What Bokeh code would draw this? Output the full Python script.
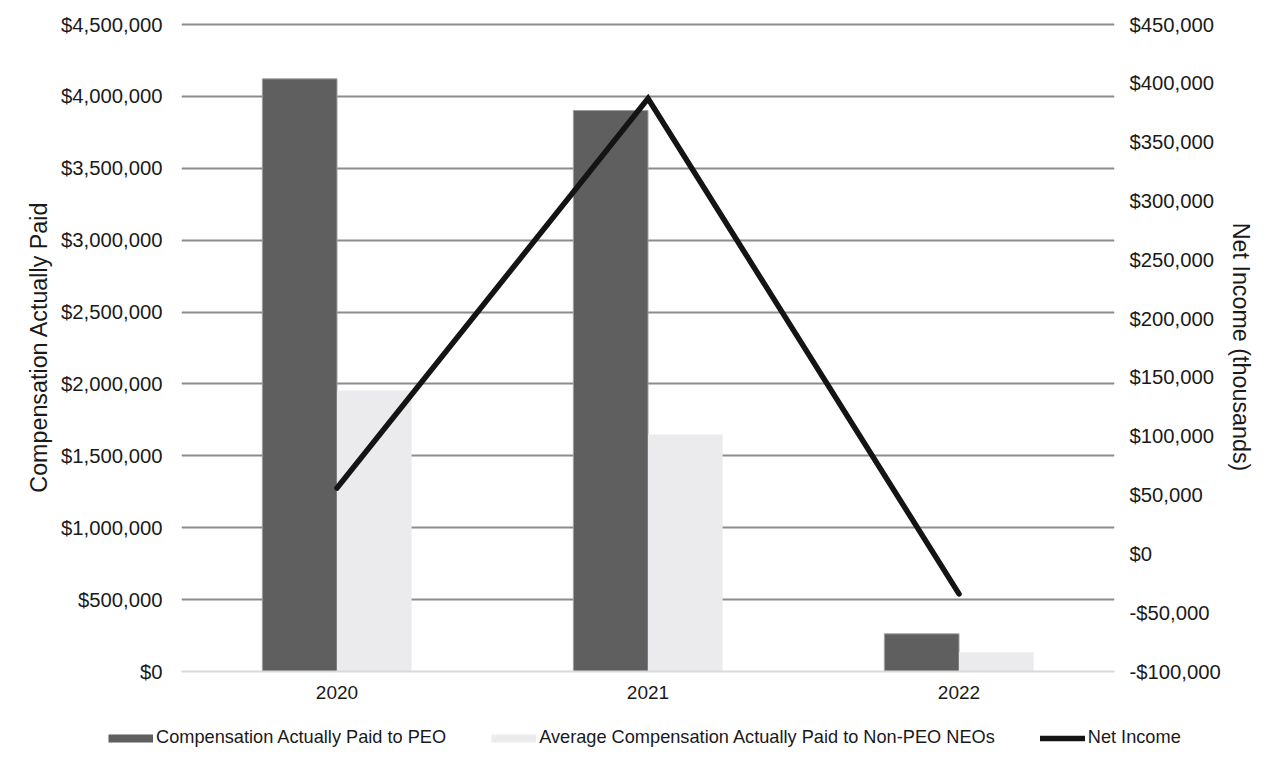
from bokeh.plotting import figure
from bokeh.models import (Range1d, LinearAxis, FactorRange, FixedTicker, NumeralTickFormatter,
                          Legend, LegendItem, ColumnDataSource)
from bokeh.transform import dodge
from bokeh.embed import file_html
from bokeh.resources import INLINE

years = ["2020", "2021", "2022"]
cap_peo = [4122000, 3902000, 262000]
cap_non_peo = [1955000, 1648000, 134000]
net_income = [56000, 387000, -34000]  # thousands

left_ticks = list(range(0, 4500001, 500000))
right_ticks = list(range(-100000, 450001, 50000))

FONT = "Liberation Sans"
TXT = "#1a1a1a"
DARK = "#5f5f5f"
LIGHT = "#ebebed"
LINE = "#141414"

# frame geometry (px)
FRAME_H = 647
PAD_TOP = 2
scale_pad = (FRAME_H + PAD_TOP) / FRAME_H
left_end = 4500000 * scale_pad
right_end = -100000 + 550000 * scale_pad

src = ColumnDataSource(dict(year=years, peo=cap_peo, non_peo=cap_non_peo, ni=net_income))

p = figure(x_range=FactorRange(*years), y_range=Range1d(0, left_end),
           width=1276, height=710, output_backend="svg", toolbar_location=None,
           min_border_left=181, min_border_right=162, min_border_top=24 - PAD_TOP,
           min_border_bottom=39)
p.extra_y_ranges = {"ni": Range1d(-100000, right_end)}
p.outline_line_color = None

p.vbar(x=dodge("year", -0.12, range=p.x_range), top="peo", width=0.24, source=src,
       fill_color=DARK, line_color="#a0a0a0", line_width=1)
p.vbar(x=dodge("year", 0.12, range=p.x_range), top="non_peo", width=0.24, source=src,
       fill_color=LIGHT, line_color=None)
p.line(x="year", y="ni", source=src, y_range_name="ni", line_color=LINE,
       line_width=5.5, line_cap="round", line_join="miter")

# axes
yax = p.yaxis[0]
yax.ticker = FixedTicker(ticks=left_ticks)
yax.formatter = NumeralTickFormatter(format="$0,0")
yax.axis_label = "Compensation Actually Paid"

rax = LinearAxis(y_range_name="ni", ticker=FixedTicker(ticks=right_ticks),
                 formatter=NumeralTickFormatter(format="$0,0"),
                 axis_label="Net Income (thousands)")
p.add_layout(rax, "right")

for ax in (yax, rax):
    ax.axis_line_color = None
    ax.major_tick_line_color = None
    ax.major_tick_out = 0
    ax.major_tick_in = 0
    ax.minor_tick_line_color = None
    ax.minor_tick_out = 0
    ax.major_label_text_font = FONT
    ax.major_label_text_font_size = "20.3px"
    ax.major_label_text_color = TXT
    ax.axis_label_text_font = FONT
    ax.axis_label_text_font_size = "23.3px"
    ax.axis_label_text_font_style = "normal"
    ax.axis_label_text_color = TXT
yax.major_label_standoff = 19
rax.major_label_standoff = 15
yax.axis_label_standoff = 6
rax.axis_label_standoff = 4

xax = p.xaxis[0]
xax.axis_line_color = "#d9d9d9"
xax.axis_line_width = 2
xax.major_tick_line_color = None
xax.major_tick_out = 0
xax.major_tick_in = 0
xax.minor_tick_line_color = None
xax.major_label_text_font = FONT
xax.major_label_text_font_size = "19px"
xax.major_label_text_color = TXT
xax.major_label_standoff = 14

p.xgrid.visible = False
p.ygrid[0].ticker = FixedTicker(ticks=left_ticks[1:])
p.ygrid.grid_line_color = "#8c8c8c"
p.ygrid.grid_line_width = 2

# legend strip: a separate small figure (own root, so its frame spans the full width)
lg = figure(width=1276, height=52, x_range=Range1d(0, 1), y_range=Range1d(0, 1),
            output_backend="svg", toolbar_location=None, min_border=0,
            x_axis_location=None, y_axis_location=None)
lg.outline_line_color = None
lg.grid.visible = False
nan = float("nan")
leg_peo = lg.line(x=[nan], y=[nan], line_color=DARK, line_width=8)
leg_non = lg.line(x=[nan], y=[nan], line_color=LIGHT, line_width=8)
leg_ni = lg.line(x=[nan], y=[nan], line_color=LINE, line_width=5.5, line_cap="round")

legend = Legend(items=[
    LegendItem(label="Compensation Actually Paid to PEO", renderers=[leg_peo]),
    LegendItem(label="Average Compensation Actually Paid to Non-PEO NEOs", renderers=[leg_non]),
    LegendItem(label="Net Income", renderers=[leg_ni]),
], orientation="horizontal", location=(108, 14), padding=0, spacing=45,
    glyph_width=45, glyph_height=20, label_height=20, label_standoff=3,
    label_text_font=FONT, label_text_font_size="18.2px", label_text_color=TXT,
    border_line_color=None, background_fill_alpha=0, margin=0)
lg.add_layout(legend)

open("out.html", "w").write(file_html([p, lg], INLINE))
